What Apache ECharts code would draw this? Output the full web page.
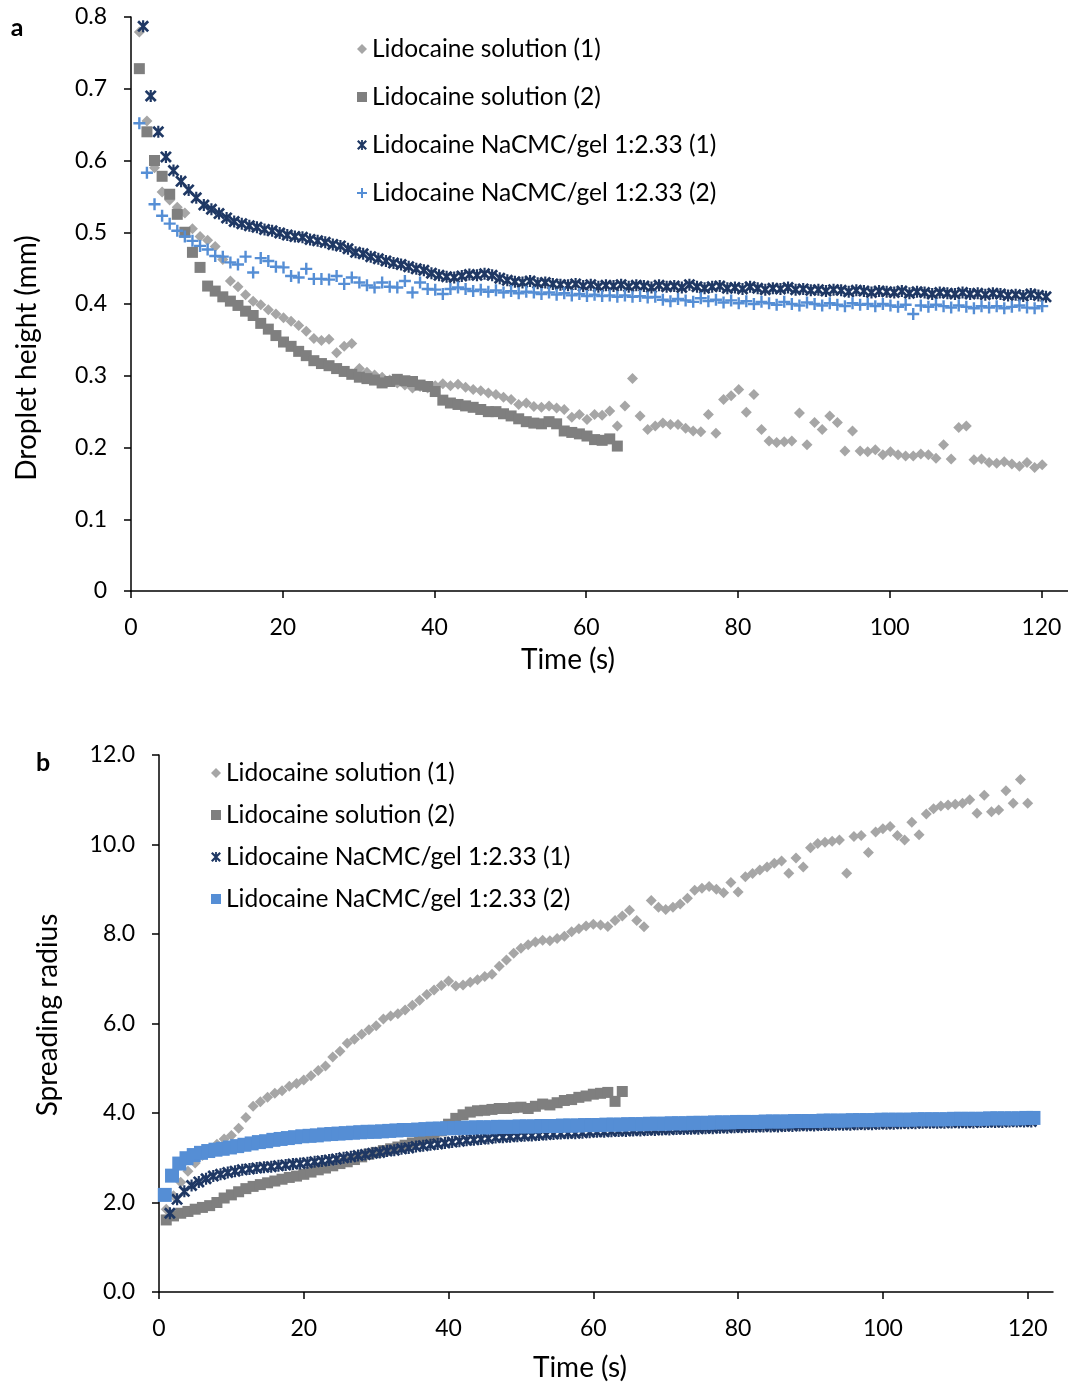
<!DOCTYPE html>
<html>
<head>
<meta charset="utf-8">
<script src="https://cdn.jsdelivr.net/npm/echarts/dist/echarts.min.js"></script>
<style>
html,body{margin:0;padding:0;background:#fff;}
#chart{width:1068px;height:1384px;}
</style>
</head>
<body>
<div id="chart"></div>
<script>
// ---------- DATA ----------
const seriesNames = ['Lidocaine solution (1)', 'Lidocaine solution (2)', 'Lidocaine NaCMC/gel 1:2.33 (1)', 'Lidocaine NaCMC/gel 1:2.33 (2)'];
const xTicks = [0, 20, 40, 60, 80, 100, 120];

// Panel a: droplet height (mm); sampled every 1 s starting at the given time
const aSol1Start = 1.1;
const aSol1 = [
0.779,0.655,0.59,0.556,0.545,0.535,0.527,0.505,0.494,0.489,
0.48,0.462,0.432,0.424,0.413,0.404,0.399,0.392,0.386,0.381,
0.376,0.37,0.362,0.352,0.349,0.351,0.332,0.341,0.345,0.31,
0.305,0.301,0.298,0.294,0.29,0.287,0.283,0.285,0.283,0.286,
0.289,0.286,0.288,0.284,0.281,0.279,0.276,0.274,0.27,0.267,
0.26,0.262,0.257,0.256,0.258,0.255,0.253,0.242,0.246,0.239,
0.246,0.245,0.251,0.23,0.258,0.296,0.244,0.225,0.23,0.234,
0.232,0.232,0.227,0.223,0.222,0.246,0.22,0.267,0.272,0.281,
0.249,0.274,0.225,0.209,0.207,0.208,0.209,0.248,0.204,0.235,
0.225,0.244,0.235,0.195,0.223,0.195,0.194,0.197,0.19,0.194,
0.19,0.188,0.188,0.191,0.19,0.185,0.204,0.184,0.228,0.23,
0.183,0.184,0.179,0.178,0.18,0.177,0.174,0.179,0.172,0.176];
const aSol2Start = 1.1;
const aSol2 = [
0.728,0.64,0.60,0.578,0.553,0.525,0.5,0.472,0.451,0.425,
0.418,0.41,0.404,0.398,0.39,0.384,0.373,0.365,0.356,0.347,
0.341,0.334,0.328,0.321,0.317,0.314,0.31,0.306,0.302,0.298,
0.296,0.294,0.29,0.292,0.295,0.293,0.292,0.287,0.285,0.278,
0.266,0.262,0.26,0.258,0.256,0.253,0.25,0.25,0.247,0.244,
0.24,0.236,0.234,0.233,0.236,0.233,0.223,0.221,0.219,0.216,
0.211,0.21,0.212,0.202];
const aGel1Start = 1.6;
const aGel1 = [
0.787,0.69,0.64,0.605,0.586,0.571,0.559,0.548,0.538,0.532,
0.526,0.52,0.515,0.512,0.509,0.507,0.504,0.502,0.499,0.496,
0.494,0.493,0.49,0.488,0.486,0.483,0.481,0.477,0.472,0.47,
0.466,0.463,0.46,0.457,0.455,0.452,0.449,0.447,0.443,0.44,
0.438,0.437,0.439,0.441,0.44,0.442,0.44,0.436,0.433,0.431,
0.43,0.432,0.429,0.43,0.428,0.427,0.426,0.428,0.425,0.427,
0.424,0.426,0.425,0.427,0.424,0.426,0.425,0.423,0.426,0.424,
0.425,0.423,0.427,0.424,0.422,0.424,0.425,0.422,0.423,0.421,
0.424,0.422,0.42,0.422,0.421,0.423,0.42,0.421,0.419,0.42,
0.418,0.42,0.419,0.417,0.419,0.418,0.416,0.418,0.417,0.416,
0.418,0.415,0.417,0.416,0.414,0.416,0.415,0.414,0.416,0.414,
0.415,0.413,0.415,0.414,0.412,0.413,0.411,0.414,0.412,0.41];
const aGel2Start = 1.1;
const aGel2 = [
0.652,0.583,0.539,0.523,0.512,0.502,0.494,0.488,0.481,0.476,
0.467,0.466,0.458,0.455,0.466,0.444,0.464,0.46,0.452,0.451,
0.439,0.437,0.449,0.435,0.435,0.434,0.439,0.428,0.437,0.43,
0.426,0.423,0.43,0.424,0.423,0.432,0.416,0.43,0.421,0.42,
0.414,0.421,0.423,0.421,0.418,0.42,0.417,0.419,0.416,0.418,
0.415,0.417,0.416,0.414,0.416,0.413,0.415,0.412,0.414,0.411,
0.413,0.411,0.412,0.41,0.412,0.41,0.411,0.409,0.41,0.406,
0.404,0.407,0.405,0.403,0.408,0.404,0.406,0.402,0.405,0.401,
0.404,0.4,0.403,0.401,0.399,0.403,0.4,0.398,0.402,0.4,
0.398,0.401,0.399,0.397,0.401,0.399,0.4,0.397,0.4,0.398,
0.396,0.399,0.386,0.398,0.396,0.399,0.397,0.395,0.398,0.396,
0.394,0.397,0.395,0.397,0.394,0.396,0.398,0.395,0.394,0.397];

// Panel b: spreading radius; sampled every 1 s starting at the given time
const bSol1Start = 1;
const bSol1 = [
1.85,2.15,2.45,2.7,2.88,3.05,3.17,3.3,3.42,3.5,
3.66,3.9,4.15,4.25,4.35,4.44,4.5,4.6,4.66,4.74,
4.83,4.95,5.05,5.25,5.38,5.56,5.65,5.76,5.86,5.95,
6.1,6.17,6.22,6.3,6.41,6.52,6.65,6.75,6.85,6.95,
6.84,6.86,6.92,6.98,7.05,7.1,7.28,7.42,7.57,7.68,
7.76,7.82,7.86,7.85,7.9,7.95,8.05,8.12,8.18,8.22,
8.2,8.17,8.3,8.4,8.53,8.3,8.16,8.75,8.6,8.55,
8.6,8.67,8.8,8.98,9.02,9.06,9.0,8.92,9.15,8.94,
9.28,9.35,9.43,9.5,9.58,9.63,9.36,9.7,9.5,9.93,
10.02,10.05,10.07,10.1,9.36,10.18,10.2,9.82,10.28,10.35,
10.4,10.2,10.1,10.5,10.22,10.68,10.8,10.86,10.88,10.9,
10.92,11.0,10.7,11.1,10.73,10.77,11.2,10.92,11.45,10.92];
const bSol2Start = 1;
const bSol2 = [
1.61,1.7,1.76,1.8,1.85,1.89,1.93,2.0,2.1,2.17,
2.24,2.31,2.36,2.4,2.44,2.48,2.52,2.56,2.59,2.63,
2.68,2.73,2.77,2.82,2.87,2.91,2.96,3.02,3.08,3.12,
3.16,3.2,3.24,3.28,3.33,3.38,3.43,3.5,3.6,3.75,
3.88,3.96,4.02,4.05,4.06,4.08,4.1,4.1,4.12,4.13,
4.1,4.15,4.2,4.18,4.23,4.28,4.3,4.35,4.38,4.42,
4.44,4.46,4.26,4.48];
const bGel1Start = 1.5;
const bGel1 = [
1.76,2.07,2.25,2.38,2.46,2.53,2.59,2.63,2.67,2.7,
2.73,2.75,2.77,2.79,2.8,2.82,2.84,2.86,2.87,2.89,
2.91,2.93,2.95,2.97,3.0,3.02,3.05,3.07,3.1,3.12,
3.15,3.17,3.2,3.22,3.25,3.27,3.29,3.31,3.33,3.35,
3.37,3.39,3.4,3.42,3.43,3.45,3.46,3.47,3.48,3.49,
3.5,3.51,3.52,3.53,3.54,3.55,3.55,3.56,3.57,3.58,
3.58,3.59,3.6,3.6,3.61,3.61,3.62,3.62,3.63,3.63,
3.64,3.64,3.65,3.65,3.66,3.66,3.67,3.67,3.68,3.68,
3.69,3.69,3.7,3.7,3.7,3.71,3.71,3.72,3.72,3.72,
3.73,3.73,3.74,3.74,3.74,3.75,3.75,3.75,3.76,3.76,
3.76,3.77,3.77,3.77,3.78,3.78,3.78,3.78,3.79,3.79,
3.79,3.79,3.8,3.8,3.8,3.8,3.81,3.81,3.81,3.81];
const bGel2Start = 0.8;
const bGel2 = [
2.17,2.6,2.87,2.99,3.06,3.11,3.15,3.18,3.2,3.23,
3.26,3.29,3.32,3.35,3.37,3.4,3.42,3.44,3.46,3.48,
3.49,3.5,3.52,3.53,3.54,3.55,3.56,3.57,3.58,3.58,
3.59,3.6,3.61,3.62,3.62,3.63,3.64,3.65,3.65,3.66,
3.66,3.67,3.67,3.68,3.68,3.68,3.69,3.69,3.69,3.7,
3.7,3.7,3.71,3.71,3.71,3.72,3.72,3.72,3.73,3.73,
3.73,3.74,3.74,3.74,3.75,3.75,3.75,3.76,3.76,3.76,
3.77,3.77,3.77,3.78,3.78,3.78,3.79,3.79,3.79,3.8,
3.8,3.8,3.8,3.81,3.81,3.81,3.81,3.82,3.82,3.82,
3.82,3.83,3.83,3.83,3.83,3.84,3.84,3.84,3.84,3.85,
3.85,3.85,3.85,3.85,3.86,3.86,3.86,3.86,3.86,3.87,
3.87,3.87,3.87,3.87,3.88,3.88,3.88,3.88,3.88,3.89,
3.89];

// ---------- CHART ----------
function pairs(start, step, vals) {
  return vals.map((v, i) => [Math.round((start + i * step) * 100) / 100, v]);
}
const FONT = 'Lato, "Open Sans", sans-serif';
const C_LIGHT = '#A6A6A6', C_DARK = '#7F7F7F', C_NAVY = '#1F3864', C_BLUE = '#558ED5';
const STAR = 'path://M0,1.6L1.6,0L10,8.4L8.4,10Z M8.4,0L10,1.6L1.6,10L0,8.4Z M4.1,0L5.9,0L5.9,10L4.1,10Z';
const PLUS = 'path://M4,0L6,0L6,10L4,10Z M0,4L10,4L10,6L0,6Z';

function xAx(gi, max) {
  return {
    gridIndex: gi, type: 'value', min: 0, max: max,
    axisLine: {show: true, onZero: false, lineStyle: {color: '#000', width: 1.5}},
    axisTick: {show: true, length: 7, customValues: xTicks, lineStyle: {color: '#000', width: 1.5}},
    axisLabel: {color: '#000', fontSize: 23, margin: 25, fontFamily: FONT, customValues: xTicks},
    splitLine: {show: false}
  };
}
function yAx(gi, max, interval, fmt) {
  return {
    gridIndex: gi, type: 'value', min: 0, max: max, interval: interval,
    axisLine: {show: true, onZero: false, lineStyle: {color: '#000', width: 1.5}},
    axisTick: {show: true, length: 7, lineStyle: {color: '#000', width: 1.5}},
    axisLabel: {color: '#000', fontSize: 23, margin: 24, fontFamily: FONT, formatter: fmt},
    splitLine: {show: false}
  };
}
function sc(name, gi, symbol, size, color, data) {
  return {
    name: name, type: 'scatter', xAxisIndex: gi, yAxisIndex: gi,
    symbol: symbol, symbolSize: size, itemStyle: {color: color, opacity: 1},
    emphasis: {disabled: true}, data: data, animation: false
  };
}

const chart = echarts.init(document.getElementById('chart'), null, {renderer: 'canvas'});
const bn = n => 'b:' + n;
const titleStyle = (t, f) => ({text: t, font: f, fill: '#000', align: 'center', verticalAlign: 'middle', textAlign: 'center', textVerticalAlign: 'middle'});
chart.setOption({
  animation: false,
  textStyle: {fontFamily: FONT},
  grid: [
    {left: 131, top: 17, width: 937, height: 574},
    {left: 159, top: 755, width: 894, height: 537}
  ],
  xAxis: [xAx(0, 123.5), xAx(1, 123.5)],
  yAxis: [
    yAx(0, 0.8, 0.1, null),
    yAx(1, 12, 2, v => v.toFixed(1))
  ],
  legend: [
    {
      orient: 'vertical', left: 352, top: 31, itemWidth: 10, itemHeight: 10, itemGap: 22,
      selectedMode: false,
      textStyle: {fontSize: 24.5, lineHeight: 26, color: '#000', fontFamily: FONT},
      data: [
        {name: seriesNames[0], icon: 'diamond'},
        {name: seriesNames[1], icon: 'rect'},
        {name: seriesNames[2], icon: STAR},
        {name: seriesNames[3], icon: PLUS}
      ]
    },
    {
      orient: 'vertical', left: 206, top: 755, itemWidth: 10, itemHeight: 10, itemGap: 16,
      selectedMode: false,
      formatter: n => n.replace(/^b:/, ''),
      textStyle: {fontSize: 24.5, lineHeight: 26, color: '#000', fontFamily: FONT},
      data: [
        {name: bn(seriesNames[0]), icon: 'diamond'},
        {name: bn(seriesNames[1]), icon: 'rect'},
        {name: bn(seriesNames[2]), icon: STAR},
        {name: bn(seriesNames[3]), icon: 'rect'}
      ]
    }
  ],
  graphic: [
    {type: 'text', x: 17, y: 28, style: titleStyle('a', 'bold 25px ' + FONT)},
    {type: 'text', x: 43, y: 763, style: titleStyle('b', 'bold 25px ' + FONT)},
    {type: 'text', x: 27, y: 358, rotation: Math.PI / 2, style: titleStyle('Droplet height (mm)', '28px ' + FONT)},
    {type: 'text', x: 568, y: 660, style: titleStyle('Time (s)', '28px ' + FONT)},
    {type: 'text', x: 48, y: 1015, rotation: Math.PI / 2, style: titleStyle('Spreading radius', '28px ' + FONT)},
    {type: 'text', x: 580, y: 1368, style: titleStyle('Time (s)', '28px ' + FONT)}
  ],
  series: [
    sc(seriesNames[0], 0, 'diamond', 11, C_LIGHT, pairs(aSol1Start, 1, aSol1)),
    sc(seriesNames[1], 0, 'rect', 11, C_DARK, pairs(aSol2Start, 1, aSol2)),
    sc(seriesNames[2], 0, STAR, 12, C_NAVY, pairs(aGel1Start, 1, aGel1)),
    sc(seriesNames[3], 0, PLUS, 12, C_BLUE, pairs(aGel2Start, 1, aGel2)),
    sc(bn(seriesNames[0]), 1, 'diamond', 11, C_LIGHT, pairs(bSol1Start, 1, bSol1)),
    sc(bn(seriesNames[1]), 1, 'rect', 11, C_DARK, pairs(bSol2Start, 1, bSol2)),
    sc(bn(seriesNames[2]), 1, STAR, 12, C_NAVY, pairs(bGel1Start, 1, bGel1)),
    sc(bn(seriesNames[3]), 1, 'rect', 14, C_BLUE, pairs(bGel2Start, 1, bGel2))
  ]
});
</script>
</body>
</html>
